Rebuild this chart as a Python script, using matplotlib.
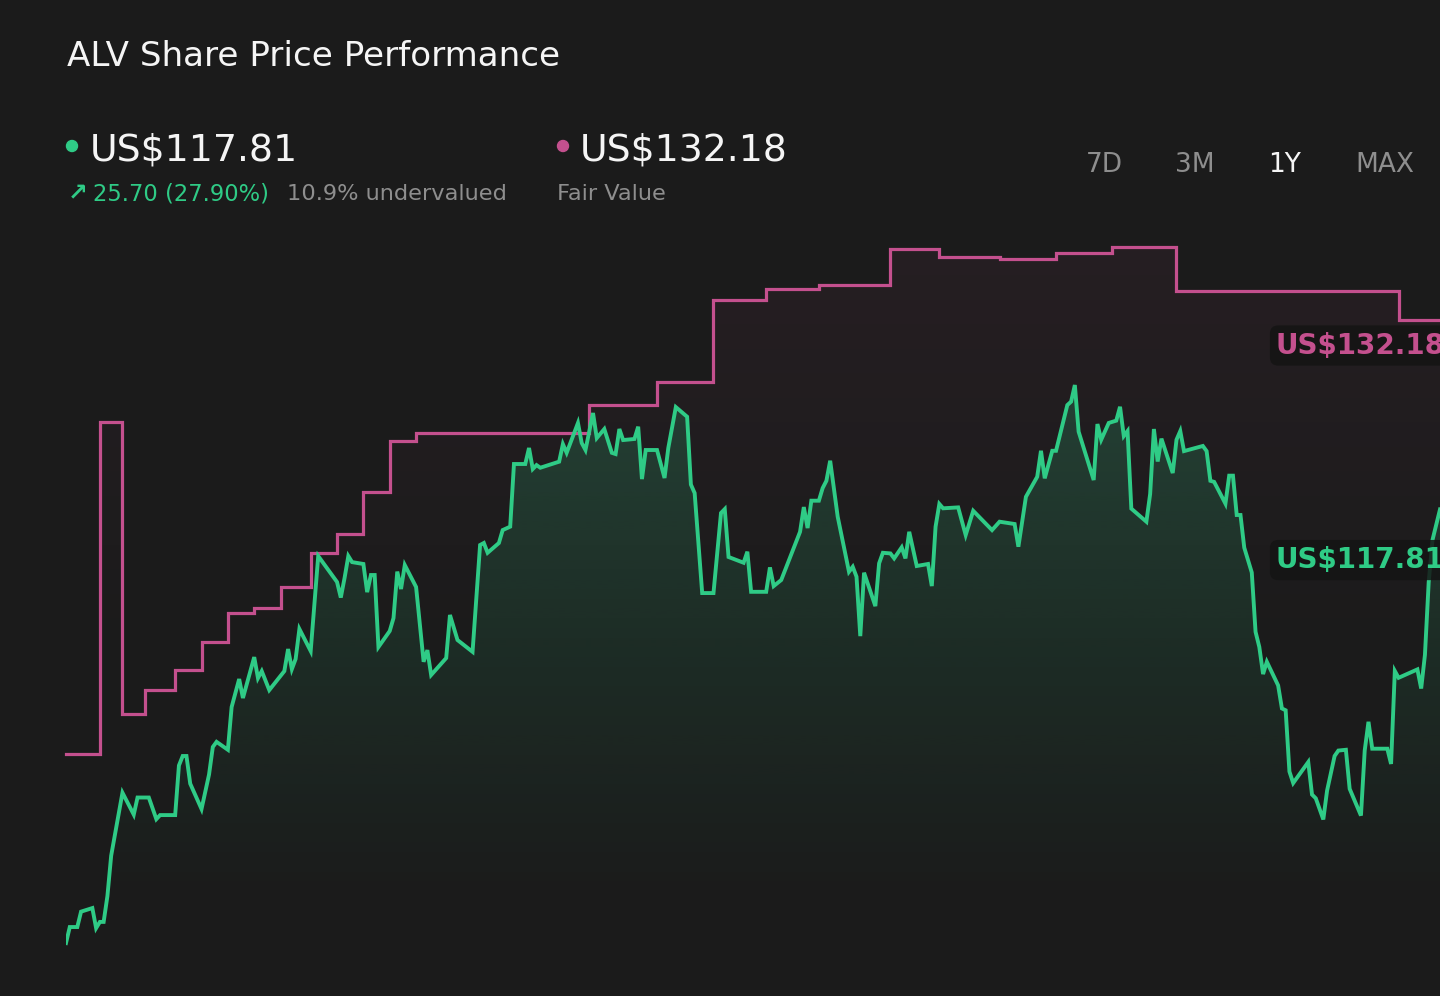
import numpy as np
import matplotlib
matplotlib.use("Agg")
import matplotlib.pyplot as plt
import matplotlib.colors as mcolors
from matplotlib.patches import Ellipse

plt.rcParams['font.family'] = ['DejaVu Sans']

# ---------------- data ----------------
title = "ALV Share Price Performance"
price_label = "US$117.81"
change_label = "25.70 (27.90%)"
valuation_label = "10.9% undervalued"
fair_label = "US$132.18"
fair_sub = "Fair Value"
periods = ["7D", "3M", "1Y", "MAX"]
active_period = "1Y"

current_price = 117.81
fair_value = 132.18

# share price (day offset within the 1Y window, price in US$)
days = [0, 1, 3, 4, 7, 8, 9, 10, 11, 12,
        15, 18, 19, 22, 24, 25, 29, 30, 31, 32,
        33, 36, 38, 39, 40, 43, 44, 46, 47, 50,
        51, 52, 54, 58, 59, 60, 61, 62, 65, 67,
        72, 73, 74, 75, 76, 79, 80, 81, 82, 83,
        86, 87, 88, 89, 90, 93, 95, 96, 97, 101,
        102, 104, 108, 110, 111, 112, 115, 116, 118, 119,
        122, 123, 124, 125, 126, 131, 132, 133, 136, 137,
        138, 140, 141, 143, 145, 146, 147, 148, 151, 152,
        153, 154, 157, 159, 160, 162, 165, 166, 167, 169,
        172, 174, 175, 176, 180, 181, 182, 186, 187, 188,
        190, 195, 196, 197, 198, 200, 201, 202, 203, 205,
        208, 209, 210, 211, 212, 215, 216, 217, 219, 220,
        222, 223, 224, 226, 229, 230, 231, 232, 233, 237,
        239, 241, 246, 248, 252, 253, 255, 258, 259, 260,
        262, 263, 266, 267, 268, 269, 273, 274, 275, 277,
        279, 280, 281, 282, 283, 287, 288, 289, 290, 291,
        294, 295, 296, 297, 302, 303, 304, 305, 308, 309,
        310, 311, 312, 313, 315, 316, 317, 318, 319, 322,
        323, 324, 325, 326, 330, 331, 332, 334, 335, 337,
        338, 340, 341, 344, 345, 346, 347, 351, 352, 353,
        354, 359, 360, 361, 362, 363, 365]
prices = [92.11, 93.14, 93.14, 94.13, 94.36, 93.07, 93.47, 93.47, 95.13, 97.73,
          101.78, 100.37, 101.47, 101.47, 100.08, 100.34, 100.34, 103.53, 104.14, 104.14,
          102.36, 100.73, 102.95, 104.72, 105.05, 104.54, 107.29, 109.09, 107.87, 110.50,
          109.15, 109.60, 108.38, 109.60, 111.02, 109.73, 110.38, 112.31, 110.89, 117.00,
          115.33, 114.33, 115.59, 117.00, 116.61, 116.49, 114.68, 115.78, 115.78, 111.15,
          112.18, 113.01, 116.00, 114.88, 116.42, 115.01, 110.20, 110.95, 109.35, 110.44,
          113.21, 111.60, 110.84, 117.71, 117.84, 117.21, 117.84, 118.67, 118.89, 122.92,
          122.92, 123.95, 122.60, 122.85, 122.68, 123.07, 124.20, 123.64, 125.56, 124.27,
          123.82, 126.20, 124.59, 125.17, 123.64, 123.56, 125.17, 124.46, 124.53, 125.32,
          121.95, 123.82, 123.82, 122.02, 123.95, 126.58, 125.96, 121.60, 121.05, 114.62,
          114.62, 119.77, 120.02, 116.94, 116.57, 117.28, 114.70, 114.70, 116.27, 115.07,
          115.46, 118.56, 120.15, 118.80, 120.56, 120.56, 121.37, 121.84, 123.13, 119.53,
          115.99, 116.31, 115.67, 111.85, 115.93, 113.78, 116.53, 117.21, 117.17, 116.85,
          117.56, 116.85, 118.56, 116.36, 116.49, 115.07, 118.89, 120.35, 120.07, 120.13,
          118.35, 119.91, 118.67, 119.21, 119.06, 117.60, 120.81, 122.10, 123.77, 122.00,
          123.77, 123.77, 126.71, 126.93, 128.00, 125.00, 121.89, 125.49, 124.48, 125.56,
          125.71, 126.60, 124.72, 125.04, 120.05, 119.21, 120.99, 125.17, 123.08, 124.55,
          122.34, 124.48, 125.04, 123.75, 124.08, 123.75, 121.84, 121.77, 120.37, 122.17,
          122.17, 119.64, 119.64, 117.54, 115.94, 112.13, 111.15, 109.41, 110.20, 108.68,
          107.20, 107.08, 103.14, 102.40, 103.75, 101.66, 101.42, 100.06, 101.91, 104.14,
          104.49, 104.54, 102.03, 100.31, 104.49, 106.34, 104.61, 104.61, 103.63, 109.61,
          109.17, 109.71, 108.48, 110.65, 115.33, 118.03, 120.00]

# fair value estimate (step changes)
fv_days = [0, 9, 15, 21, 29, 36, 43, 50, 57, 65, 72, 79, 86, 93, 139, 157,
           172, 186, 200, 219, 232, 248, 263, 278, 295, 354, 365]
fv_values = [104.30, 125.63, 106.87, 108.39, 109.67, 111.48, 113.35, 113.63, 115.04,
             117.21, 118.45, 121.12, 124.40, 124.93, 126.71, 128.17, 133.47, 134.15,
             134.43, 136.73, 136.25, 136.10, 136.47, 136.86, 134.03, 132.18, 132.18]

# ---------------- style ----------------
BG = "#1b1b1b"
GREEN = "#2fcb86"
PINK = "#c4508e"
GREY = "#8e8e8e"
WHITE = "#f5f5f5"

W, H = 1440, 996
fig = plt.figure(figsize=(W / 100, H / 100), dpi=100, facecolor=BG)


def fx(px):
    return px / W


def fy(py):
    return 1 - py / H


# plot area
ax_left, ax_right, ax_top, ax_bottom = 66, 1440, 230, 960
ax = fig.add_axes([fx(ax_left), fy(ax_bottom), (ax_right - ax_left) / W,
                   (ax_bottom - ax_top) / H])
ax.set_facecolor(BG)
for s in ax.spines.values():
    s.set_visible(False)
ax.set_xticks([])
ax.set_yticks([])

YMIN, YMAX = 91.02, 137.97
XMIN, XMAX = 0, 365


def gradient_under(x, y, color, a_top, fade_frac, step=None, z=1):
    poly = ax.fill_between(x, y, YMIN, step=step, facecolor="none",
                           edgecolor="none", zorder=z)
    n = 400
    img = np.zeros((n, 1, 4))
    img[:, :, :3] = mcolors.to_rgb(color)
    t = np.linspace(0, 1, n)
    img[:, 0, 3] = np.clip(a_top * (1 - t / fade_frac), 0, None)
    im = ax.imshow(img, aspect="auto", extent=[XMIN, XMAX, YMIN, YMAX],
                   origin="upper", zorder=z, interpolation="bilinear")
    im.set_clip_path(poly.get_paths()[0], ax.transData)


gradient_under(fv_days, fv_values, PINK, 0.07, 0.6, step="post", z=1)
gradient_under(days, prices, GREEN, 0.27, 0.92, z=2)

ax.step(fv_days, fv_values, where="post", color=PINK, lw=2.3, zorder=3,
        solid_joinstyle="miter", clip_on=False)
ax.plot(days, prices, color=GREEN, lw=2.8, zorder=4, solid_joinstyle="miter")

ax.set_xlim(XMIN, XMAX)
ax.set_ylim(YMIN, YMAX)

# value labels on the right (partly running past the right edge, as in the source)
blend = matplotlib.transforms.blended_transform_factory(ax.transAxes, ax.transData)
lab_x = (1276 - ax_left) / (ax_right - ax_left)
ax.annotate(fair_label, xy=(lab_x, fair_value), xycoords=blend,
            xytext=(0, -25.5), textcoords="offset pixels", ha="left", va="center",
            fontsize=20, fontweight="bold", color=PINK, zorder=6,
            annotation_clip=False,
            bbox=dict(boxstyle="round,pad=0.22,rounding_size=0.3", fc="#141414",
                      ec="none", alpha=0.85))
ax.annotate(price_label, xy=(lab_x, current_price), xycoords=blend,
            xytext=(0, -16.6), textcoords="offset pixels", ha="left", va="center",
            fontsize=20, fontweight="bold", color=GREEN, zorder=6,
            annotation_clip=False,
            bbox=dict(boxstyle="round,pad=0.22,rounding_size=0.3", fc="#141414",
                      ec="none", alpha=0.85))

# ---------------- header ----------------
fig.text(fx(67), fy(66), title, fontsize=24.6, color=WHITE, va="baseline", ha="left")

fig.add_artist(Ellipse((fx(72), fy(146)), 11 / W, 11 / H, transform=fig.transFigure,
                       color=GREEN))
fig.text(fx(90), fy(161), price_label, fontsize=27.2, color=WHITE, va="baseline")
fig.text(fx(68), fy(200), "\u2197", fontsize=17, color=GREEN, va="baseline",
         fontweight="bold")
fig.text(fx(93), fy(200), change_label, fontsize=16.3, color=GREEN, va="baseline")
fig.text(fx(287), fy(200), valuation_label, fontsize=16.2, color=GREY, va="baseline")

fig.add_artist(Ellipse((fx(563), fy(146)), 11 / W, 11 / H, transform=fig.transFigure,
                       color=PINK))
fig.text(fx(580), fy(161), fair_label, fontsize=27.2, color=WHITE, va="baseline")
fig.text(fx(557), fy(200), fair_sub, fontsize=16.2, color=GREY, va="baseline")

period_x = [1086, 1175, 1268, 1355]
for lbl, px in zip(periods, period_x):
    fig.text(fx(px), fy(172), lbl, fontsize=19, va="baseline",
             color=WHITE if lbl == active_period else GREY)

fig.savefig("out.png", dpi=100, facecolor=BG)
